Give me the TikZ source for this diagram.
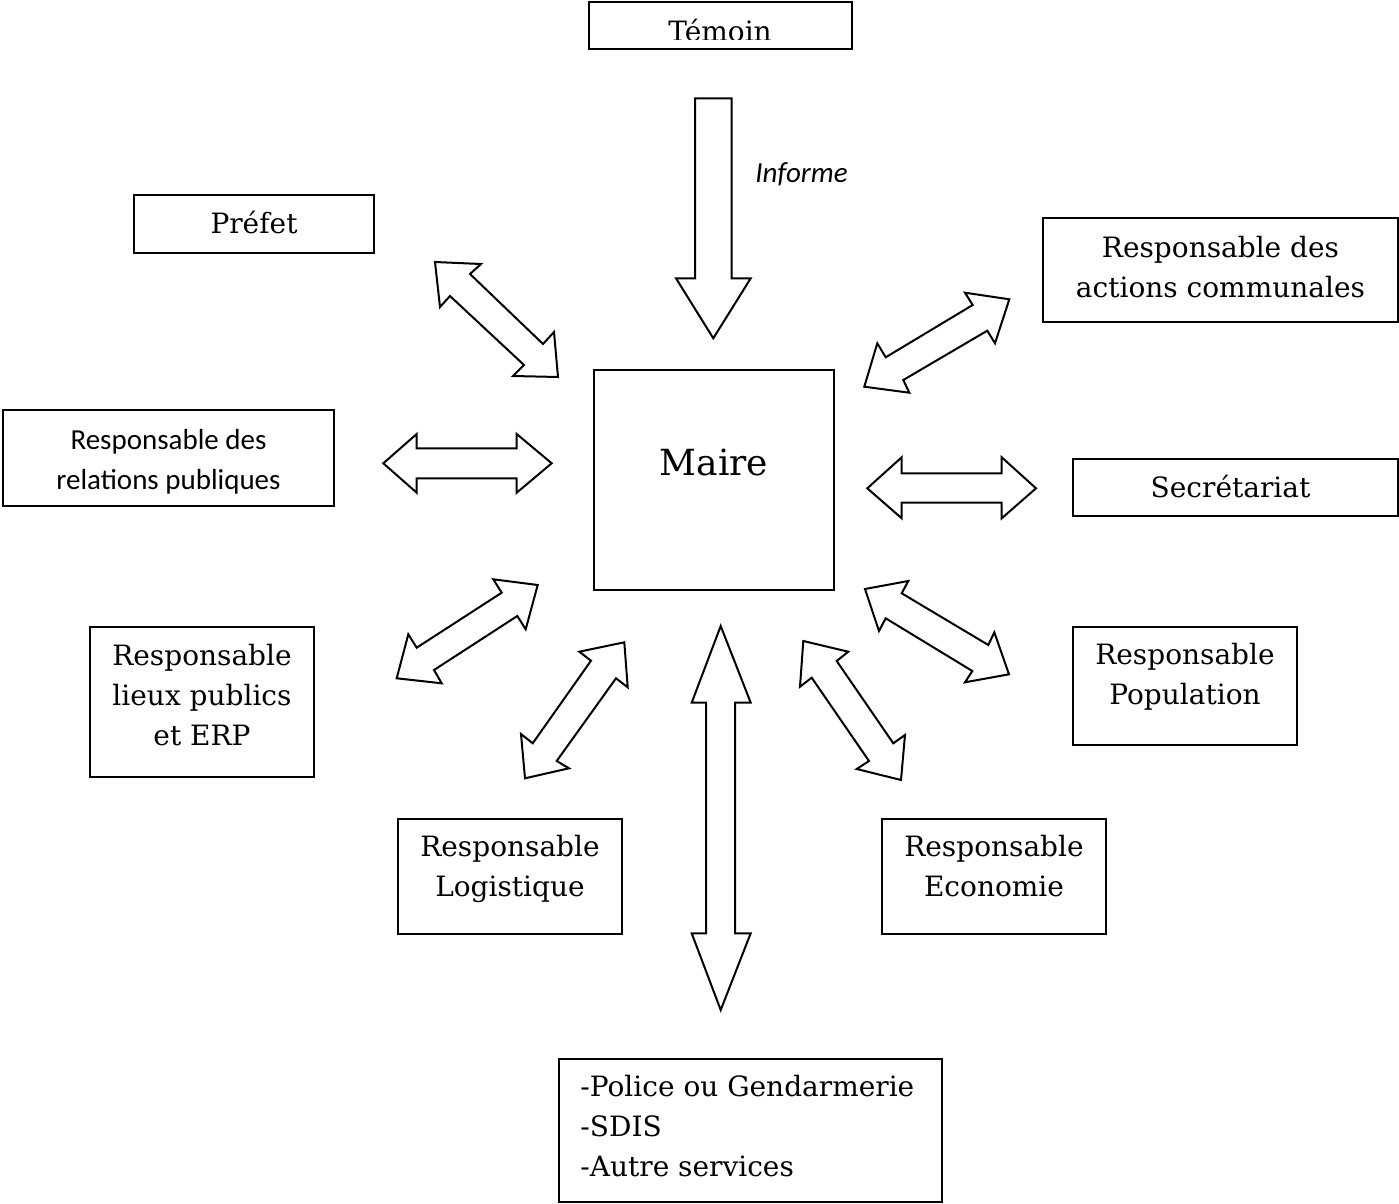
\documentclass[tikz,border=0pt]{standalone}
\usepackage{fontspec}
\setmainfont{DejaVu Serif}
\newfontfamily\calibri{Carlito}
\begin{document}
\begin{tikzpicture}[x=0.5pt,y=-0.5pt,
  box/.style 2 args={draw, line width=1pt, inner sep=0pt, minimum width={#1*0.5pt}, minimum height={#2*0.5pt}},
  lbl/.style={font=\fontsize{14}{20}\selectfont, align=center, anchor=base, inner sep=0pt},
  slbl/.style={font=\calibri\fontsize{14.5}{20}\selectfont, align=center, anchor=base, inner sep=0pt},
  blk/.style={draw, line width=1pt, fill=white, line join=miter}]
\useasboundingbox (0,0) rectangle (1399,1204);
% boxes
\node[box={263}{47}] (temoin) at (720.5,25.5) {};
\node[box={240}{58}] (prefet) at (254,224) {};
\node[box={355}{104}] (actions) at (1220.5,270) {};
\node[box={331}{96}] (relations) at (168.5,458) {};
\node[box={240}{220}] (maire) at (714,480) {};
\node[box={325}{57}] (secret) at (1235.5,487.5) {};
\node[box={224}{150}] (lieux) at (202,702) {};
\node[box={224}{118}] (popul) at (1185,686) {};
\node[box={224}{115}] (logist) at (510,876.5) {};
\node[box={224}{115}] (econ) at (994,876.5) {};
\node[box={383}{143}] (services) at (750.5,1130.5) {};
% texts (multi-line nodes: base = last line baseline)
\begin{scope}
\clip (589,2) rectangle (852,39.5);
\node[lbl] (temoinT) at (720,42) {Témoin};
\end{scope}
\node[lbl] (prefetT) at (254,234) {Préfet};
\node[lbl] (actionsT) at (1220.5,297) {Responsable des\\actions communales};
\node[slbl] (relationsT) at (168.5,489.5) {Responsable des\\relations publiques};
\node[lbl, font=\fontsize{18}{22}\selectfont] (maireT) at (714,475) {Maire};
\node[lbl] (secretT) at (1230.5,497) {Secrétariat};
\node[lbl] (lieuxT) at (202,745) {Responsable\\lieux publics\\et ERP};
\node[lbl] (populT) at (1185,704) {Responsable\\Population};
\node[lbl] (logistT) at (510,896) {Responsable\\Logistique};
\node[lbl] (econT) at (994,896) {Responsable\\Economie};
\node[lbl, align=left, anchor=base west] (servicesT) at (580,1176) {-Police ou Gendarmerie\\-SDIS\\-Autre services};
\node[slbl, font=\calibri\itshape\fontsize{14.5}{20}\selectfont, anchor=base west] (informe) at (755,183) {Informe};
% block arrows
\draw[blk] (695,98.3) -- (731.7,98.3) -- (731.7,278.3) -- (750.7,278.3) -- (713.3,338.3) -- (676,278.3) -- (695,278.3) -- cycle;
\draw[blk] (435,262) -- (481,264) -- (470,274) -- (543,344) -- (554,332) -- (558,377) -- (513,376) -- (524,365) -- (450,296) -- (440,307) -- cycle;
\draw[blk] (1009.3,299.3) -- (995,343.3) -- (987.3,330.7) -- (903.3,380) -- (909.3,392.7) -- (864.3,386.7) -- (877.3,343.3) -- (885.7,357.3) -- (972.7,305) -- (965,292.7) -- cycle;
\draw[blk] (383.3,463.3) -- (416.7,434) -- (416.7,448.3) -- (516.7,448.3) -- (516.7,434) -- (551.7,463.3) -- (516.7,492.7) -- (516.7,478.3) -- (416.7,478.3) -- (416.7,492.7) -- cycle;
\draw[blk] (867.3,488.3) -- (901.7,457.3) -- (901.7,473.3) -- (1001.7,473.3) -- (1001.7,457.3) -- (1036,488.3) -- (1001.7,518.3) -- (1001.7,502.7) -- (901.7,502.7) -- (901.7,518.3) -- cycle;
\draw[blk] (537.7,585) -- (525.7,629.3) -- (517.3,616) -- (434,670) -- (441.7,683.3) -- (396.7,678.3) -- (408.3,634.3) -- (416.7,647.7) -- (501.7,592.7) -- (493.3,579.3) -- cycle;
\draw[blk] (624.3,642.3) -- (627.7,687.3) -- (616,678.3) -- (556.7,761) -- (569,768.3) -- (525,778.3) -- (521,734) -- (532.7,743.3) -- (591,660.7) -- (579.3,651.7) -- cycle;
\draw[blk] (720.7,626) -- (750.7,702.7) -- (735,702.7) -- (735,933.3) -- (750.7,933.3) -- (720.7,1010) -- (691.7,933.3) -- (706,933.3) -- (706,702.7) -- (691.7,702.7) -- cycle;
\draw[blk] (803.3,641) -- (848.3,651.7) -- (836.7,661) -- (893.3,743.3) -- (905,735) -- (901,780) -- (856.7,769) -- (869,761) -- (811.7,677.7) -- (800,686.7) -- cycle;
\draw[blk] (865,589) -- (908.3,581) -- (901.7,593.3) -- (988.3,645) -- (994.3,632.3) -- (1009,674.3) -- (965,682.3) -- (972.3,671) -- (885.7,618.3) -- (879,631) -- cycle;
\end{tikzpicture}
\end{document}
